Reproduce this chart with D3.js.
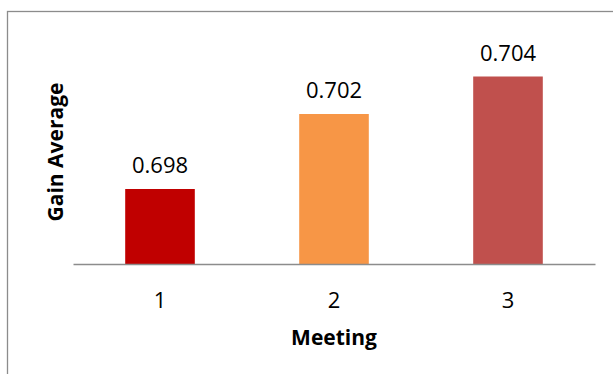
<!DOCTYPE html>
<html>
<head>
<meta charset="utf-8">
<script src="https://cdn.jsdelivr.net/npm/d3@7"></script>
<style>
  body { margin: 0; background: #fff; }
  text { font-family: "Open Sans", sans-serif; fill: #000; }
</style>
</head>
<body>
<div id="chart"></div>
<script>
var meetings = ["1", "2", "3"];
var gains = [0.698, 0.702, 0.704];
var barColors = ["#C00000", "#F79646", "#C0504D"];

var w = 613, h = 374;
var plotLeft = 73, plotRight = 595, plotTop = 39, plotBottom = 264;

var svg = d3.select("#chart").append("svg")
    .attr("width", w)
    .attr("height", h);

// chart frame (runs off the picture on the right and bottom)
svg.append("rect")
    .attr("x", 7.5).attr("y", 11.5)
    .attr("width", 640).attr("height", 400)
    .attr("fill", "#fff")
    .attr("stroke", "#8c8c8c")
    .attr("stroke-width", 1.3);

var xScale = d3.scaleBand()
    .domain(meetings)
    .range([plotLeft, plotRight])
    .paddingInner(0.6)
    .paddingOuter(0.3);

var yScale = d3.scaleLinear()
    .domain([0.694, 0.706])
    .range([plotBottom, plotTop]);

// bars
svg.selectAll("rect.bar")
    .data(gains)
    .enter()
    .append("rect")
    .attr("class", "bar")
    .attr("x", function(d, i) { return xScale(meetings[i]); })
    .attr("y", function(d) { return yScale(d); })
    .attr("width", xScale.bandwidth())
    .attr("height", function(d) { return yScale(0.694) - yScale(d); })
    .attr("fill", function(d, i) { return barColors[i]; });

// value labels
svg.selectAll("text.val")
    .data(gains)
    .enter()
    .append("text")
    .attr("class", "val")
    .attr("x", function(d, i) { return xScale(meetings[i]) + xScale.bandwidth() / 2; })
    .attr("y", function(d) { return yScale(d) - 16; })
    .attr("text-anchor", "middle")
    .style("font-size", "22px")
    .text(function(d) { return d3.format(".3f")(d); });

// x axis
var xAxis = d3.axisBottom(xScale).tickSize(0).tickPadding(28);
var gx = svg.append("g")
    .attr("transform", "translate(0," + plotBottom + ")")
    .call(xAxis);
gx.select(".domain").attr("stroke", "#8c8c8c").attr("stroke-width", 1.3);
gx.selectAll("text")
    .style("font-family", "Open Sans, sans-serif")
    .style("font-size", "22px")
    .attr("fill", "#000");

// axis titles
svg.append("text")
    .attr("x", (plotLeft + plotRight) / 2)
    .attr("y", 345)
    .attr("text-anchor", "middle")
    .style("font-size", "21px")
    .style("font-weight", "bold")
    .text("Meeting");

svg.append("text")
    .attr("text-anchor", "middle")
    .attr("transform", "translate(63,152)rotate(-90)")
    .style("font-size", "21px")
    .style("font-weight", "bold")
    .text("Gain Average");
</script>
</body>
</html>
